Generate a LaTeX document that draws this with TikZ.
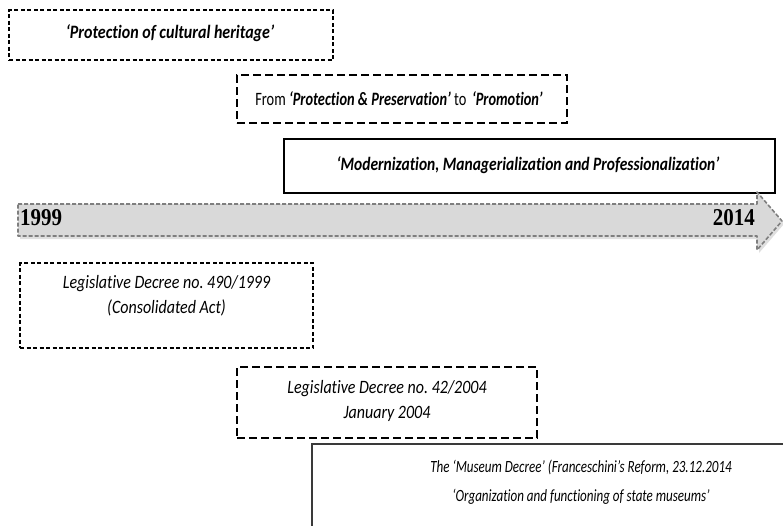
\documentclass[tikz,border=0pt]{standalone}
\usepackage{fontspec}
\setmainfont{Carlito}[Ligatures=NoCommon]
\newfontfamily\yearfont{Liberation Serif}
\frenchspacing
\definecolor{shaftfill}{HTML}{D9D9D9}
\definecolor{shaftline}{HTML}{7F7F7F}
\definecolor{boxline}{HTML}{3A3A3A}
% text is set slightly taller than the font's natural shape
\newcommand\tall[2][1]{\scalebox{#1}[1.18]{\begin{tabular}{@{}c@{}}#2\end{tabular}}}
\begin{document}
\begin{tikzpicture}[x=1pt,y=-1pt,
  txt/.style={font=\fontsize{16}{21.2}\selectfont, inner sep=0pt},
  smalltxt/.style={font=\fontsize{14.5}{25.4}\selectfont, inner sep=0pt},
  frame/.style={minimum width=#1, inner sep=0pt, anchor=center},
  shortdash/.style={draw=black, line width=1.2pt, dash pattern=on 4pt off 2.5pt},
  longdash/.style={draw=black, line width=1.2pt, dash pattern=on 8pt off 4pt},
  solidbox/.style={draw=black, line width=1.2pt},
  yearlbl/.style={font=\yearfont\bfseries\fontsize{21}{21}\selectfont, inner sep=0pt}
]
\useasboundingbox (0,0) rectangle (783,525);
\clip (0,0) rectangle (783,525);

% upper row: themes of the period
\node[frame=324pt, minimum height=50pt, shortdash] (protect) at (171,35) {};
\node[txt] (protecttxt) at (170,33) {\tall{\bfseries\itshape ‘Protection of cultural heritage’}};

\node[frame=330pt, minimum height=48pt, longdash] (promote) at (402,99) {};
\node[txt] (promotetxt) at (399,100) {\tall[0.9]{From \textbf{\textit{‘Protection \& Preservation’}} to\, \textbf{\textit{‘Promotion’}}}};

\node[frame=491pt, minimum height=54pt, solidbox] (modern) at (529.5,166) {};
\node[txt] (moderntxt) at (528,165) {\tall[0.97]{\bfseries\itshape ‘Modernization, Managerialization and Professionalization’}};

% the timeline arrow
\path[fill=black!25, opacity=0.5] (20,207) -- (759,207) -- (759,195) -- (784,224) -- (759,253) -- (759,239) -- (20,239) -- cycle;
\draw[fill=shaftfill, draw=shaftline, line width=1.6pt, dash pattern=on 4pt off 2pt, line join=round]
  (18,204) -- (757,204) -- (757,192) -- (782,221) -- (757,250) -- (757,236) -- (18,236) -- cycle;
\node[yearlbl, anchor=west] (y1999) at (20,218) {\scalebox{1}[1.15]{1999}};
\node[yearlbl, anchor=east] (y2014) at (755,218) {\scalebox{1}[1.15]{2014}};

% lower row: legislation
\node[frame=293pt, minimum height=85pt, shortdash] (d490) at (166.5,305.5) {};
\node[txt] (d490txt) at (166.5,296) {\tall{\itshape Legislative Decree no. 490/1999\\ \itshape (Consolidated Act)}};

\node[frame=300pt, minimum height=71pt, longdash] (d42) at (387,402.5) {};
\node[txt] (d42txt) at (387,401) {\tall{\itshape Legislative Decree no. 42/2004\\ \itshape January 2004}};

\node[frame=500pt, minimum height=100pt, draw=boxline, line width=1.5pt, anchor=north west] (museum) at (311,443) {};
\node[smalltxt] (museumtxt) at (581,481) {\tall[0.9]{\itshape The ‘Museum Decree’ (Franceschini’s Reform, 23.12.2014\\ \itshape ‘Organization and functioning of state museums’}};
\end{tikzpicture}
\end{document}
